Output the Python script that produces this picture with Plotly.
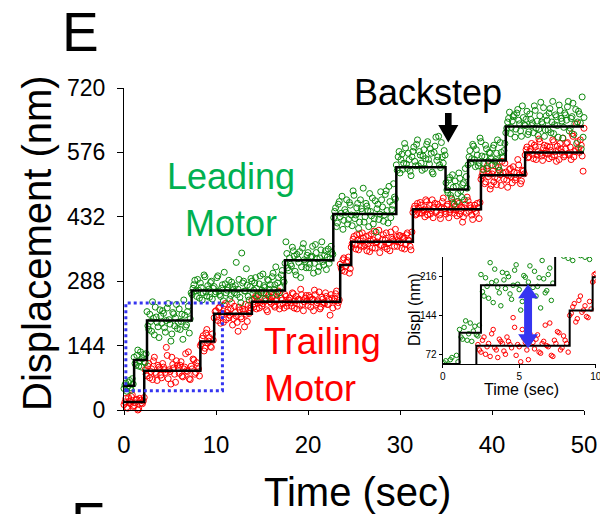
import plotly.graph_objects as go

FONT = "Liberation Sans, Arial, sans-serif"
FRAME_DT = 0.2  # seconds between frames of each interleaved channel

# Leading (green) motor displacement (nm); frames at t = 0, 0.2, 0.4 ... (2 s per row)
leading_nm_even = [
    48, 60, 52, 66, 44, 58, 104, 122, 98, 130,
    115, 108, 126, 188, 214, 176, 205, 230, 196, 162,
    210, 222, 184, 200, 238, 192, 170, 215, 206, 182,
    226, 198, 158, 212, 190, 232, 204, 258, 280, 266,
    292, 250, 274, 262, 298, 255, 270, 285, 248, 276,
    264, 300, 258, 272, 244, 282, 268, 290, 256, 276,
    262, 330, 270, 252, 351, 288, 266, 279, 246, 294,
    260, 284, 272, 256, 300, 268, 278, 250, 292, 270,
    262, 306, 280, 258, 296, 274, 312, 286, 376, 318,
    340, 322, 356, 310, 348, 330, 296, 362, 336, 318,
    352, 326, 344, 306, 370, 338, 320, 358, 332, 346,
    314, 360, 338, 352, 430, 452, 418, 466, 440, 404,
    448, 470, 426, 458, 412, 480, 436, 462, 420, 450,
    496, 432, 456, 410, 444, 474, 428, 398, 460, 438,
    470, 422, 482, 446, 500, 430, 458, 476, 548, 566,
    530, 572, 552, 586, 540, 560, 524, 578, 556, 594,
    546, 570, 536, 582, 562, 600, 550, 574, 528, 590,
    558, 612, 542, 566, 580, 508, 486, 520, 474, 498,
    512, 466, 530, 490, 504, 470, 522, 548, 580, 562,
    590, 544, 570, 552, 600, 538, 566, 584, 556, 574,
    548, 592, 560, 604, 536, 576, 564, 596, 630, 652,
    618, 646, 660, 628, 672, 640, 612, 654, 636, 668,
    622, 650, 642, 680, 630, 614, 658, 644, 676, 626,
    648, 664, 620, 690, 638, 656, 610, 670, 646, 632,
    660, 678, 624, 652, 686, 640, 596, 668, 642, 700,
    654,
]
# Leading motor, frames at t = 0.1, 0.3, 0.5 ...
leading_nm_odd = [
    56, 42, 62, 50, 70, 118, 100, 134, 110, 96,
    124, 106, 220, 180, 198, 242, 168, 208, 186, 224,
    194, 216, 174, 228, 202, 154, 218, 188, 236, 196,
    180, 214, 246, 186, 220, 172, 262, 272, 290, 254,
    268, 284, 246, 302, 264, 278, 252, 288, 272, 260,
    296, 266, 254, 280, 308, 262, 274, 248, 286, 270,
    278, 258, 292, 240, 284, 266, 316, 254, 276, 288,
    268, 296, 254, 282, 262, 304, 274, 258, 290, 280,
    298, 270, 320, 284, 262, 302, 290, 328, 350, 312,
    326, 364, 344, 302, 338, 354, 320, 372, 332, 346,
    318, 342, 366, 328, 352, 310, 340, 376, 324, 356,
    342, 328, 366, 348, 444, 410, 460, 432, 478, 424,
    442, 416, 464, 436, 490, 428, 452, 406, 470, 444,
    420, 462, 446, 484, 434, 416, 468, 450, 426, 488,
    454, 436, 490, 418, 466, 448, 506, 472, 536, 578,
    560, 538, 596, 550, 574, 534, 566, 588, 546, 604,
    578, 552, 568, 540, 594, 560, 584, 532, 576, 610,
    566, 548, 598, 552, 570, 492, 514, 480, 526, 460,
    500, 484, 518, 476, 508, 540, 496, 566, 552, 594,
    560, 582, 546, 608, 568, 552, 592, 540, 576, 562,
    586, 556, 574, 544, 598, 566, 580, 620, 644, 666,
    632, 656, 610, 664, 648, 624, 680, 638, 650, 616,
    662, 636, 620, 670, 646, 628, 688, 640, 612, 658,
    626, 674, 644, 618, 660, 636, 682, 652, 608, 664,
    648, 690, 630, 656, 616, 672, 644, 662, 584, 610,
]

# Trailing (red) motor displacement (nm); frames at t = 0, 0.2, 0.4 ...
trailing_nm_even = [
    12, 26, 4, 20, 30, 8, 16, 24, 2, 22,
    14, 28, 80, 98, 72, 92, 110, 84, 66, 96,
    78, 104, 90, 140, 70, 86, 118, 94, 62, 100,
    82, 108, 74, 96, 88, 130, 68, 92, 112, 84,
    98, 76, 148, 166, 138, 180, 154, 142, 170, 206,
    222, 200, 230, 212, 196, 238, 218, 206, 226, 190,
    232, 210, 176, 224, 204, 220, 236, 198, 216, 228,
    236, 250, 226, 258, 240, 232, 262, 244, 220, 252,
    238, 256, 230, 248, 266, 234, 246, 228, 254, 240,
    250, 232, 260, 244, 226, 248, 270, 236, 242, 256,
    234, 252, 246, 222, 258, 240, 264, 230, 248, 238,
    254, 236, 212, 250, 244, 260, 232, 246, 318, 336,
    310, 330, 342, 316, 372, 388, 360, 380, 394, 366,
    384, 370, 356, 390, 378, 362, 400, 374, 386, 352,
    368, 392, 380, 360, 374, 398, 382, 366, 388, 376,
    390, 362, 384, 370, 396, 378, 358, 442, 456, 438,
    452, 464, 440, 448, 470, 436, 458, 446, 430, 462,
    444, 454, 428, 466, 450, 438, 460, 442, 472, 448,
    456, 434, 462, 446, 420, 452, 440, 468, 458, 436,
    450, 444, 462, 428, 516, 532, 506, 540, 522, 494,
    528, 510, 546, 518, 536, 502, 530, 552, 514, 524,
    540, 508, 532, 520, 560, 526, 512, 534, 570, 588,
    566, 584, 572, 592, 560, 578, 600, 568, 586, 574,
    590, 562, 580, 604, 570, 556, 582, 596, 576, 566,
    584, 598, 570, 560, 612, 578, 640, 586, 604, 568,
    630,
]
# Trailing motor, frames at t = 0.1, 0.3, 0.5 ...
trailing_nm_odd = [
    18, 6, 28, 14, 34, 10, 22, 0, 26, 16,
    20, 90, 76, 104, 86, 68, 118, 80, 100, 92,
    72, 96, 84, 122, 90, 58, 102, 80, 110, 94,
    100, 76, 92, 126, 86, 70, 98, 114, 80, 106,
    92, 144, 160, 132, 172, 150, 162, 140, 156, 220,
    208, 228, 194, 216, 234, 202, 224, 212, 240, 204,
    218, 196, 230, 208, 226, 186, 214, 234, 222, 246,
    230, 254, 244, 228, 262, 238, 248, 224, 256, 242,
    252, 234, 244, 264, 226, 250, 238, 258, 232, 246,
    240, 262, 228, 254, 246, 234, 258, 222, 250, 244,
    256, 230, 248, 268, 236, 244, 226, 252, 240, 262,
    236, 248, 258, 228, 250, 266, 240, 326, 312, 340,
    320, 334, 306, 364, 382, 370, 392, 358, 378, 396,
    366, 388, 372, 354, 394, 380, 362, 376, 402, 368,
    382, 364, 396, 372, 356, 386, 378, 404, 366, 390,
    374, 388, 360, 392, 380, 366, 398, 450, 436, 462,
    440, 458, 446, 432, 466, 450, 438, 470, 454, 442,
    460, 436, 452, 474, 444, 456, 430, 448, 464, 440,
    448, 466, 438, 454, 432, 460, 476, 444, 452, 426,
    458, 440, 452, 464, 524, 538, 510, 546, 528, 502,
    534, 520, 504, 542, 526, 556, 516, 532, 498, 538,
    522, 544, 514, 530, 548, 506, 536, 528, 582, 564,
    578, 596, 562, 588, 570, 606, 574, 558, 592, 580,
    572, 588, 566, 600, 578, 590, 560, 584, 608, 570,
    596, 574, 588, 618, 566, 582, 600, 576, 592, 534,
]

# Step fits (dwell boundaries in s, dwell levels in nm)
leading_step_t = [0, 1.1, 2.5, 7.35, 17.5, 22.75, 29.6, 34.95, 37.4, 41.5, 50.1]
leading_step_nm = [54, 112, 200, 267, 335, 438, 543, 493, 558, 634]
trailing_step_t = [0, 2.2, 8.3, 9.8, 13.9, 23.5, 24.7, 31.4, 38.8, 43.6, 50.1]
trailing_step_nm = [18, 88, 153, 215, 242, 324, 376, 449, 525, 576]

x_ticks = [0, 10, 20, 30, 40, 50]
y_ticks = [0, 144, 288, 432, 576, 720]
inset_x_ticks = [0, 5, 10]
inset_y_ticks = [72, 144, 216]

GREEN = "#0f8a0f"
RED = "#ff0000"
BLUE = "#3535f0"

t_lead = [i * FRAME_DT for i in range(len(leading_nm_even))] + \
         [0.1 + i * FRAME_DT for i in range(len(leading_nm_odd))]
y_lead = leading_nm_even + leading_nm_odd
t_trail = [i * FRAME_DT for i in range(len(trailing_nm_even))] + \
          [0.1 + i * FRAME_DT for i in range(len(trailing_nm_odd))]
y_trail = trailing_nm_even + trailing_nm_odd

W, H = 600, 514
ML, MT = 124, 88
PW, PH = 472, 322
MR, MB = W - ML - PW, H - MT - PH


def paper(xp, yp):
    """Window pixel -> paper coordinates."""
    return (xp - ML) / PW, (H - MB - yp) / PH


fig = go.Figure()

for xa, ya, msize in (("x", "y", 6), ("x2", "y2", 4.5)):
    fig.add_trace(go.Scatter(x=t_trail, y=y_trail, mode="markers", xaxis=xa, yaxis=ya,
                             marker=dict(symbol="circle-open", size=msize, color=RED,
                                         line=dict(width=1, color=RED)),
                             cliponaxis=(xa == "x2"), showlegend=False, hoverinfo="skip"))
    fig.add_trace(go.Scatter(x=t_lead, y=y_lead, mode="markers", xaxis=xa, yaxis=ya,
                             marker=dict(symbol="circle-open", size=msize, color=GREEN,
                                         line=dict(width=1, color=GREEN)),
                             cliponaxis=(xa == "x2"), showlegend=False, hoverinfo="skip"))
    for st, sn in ((trailing_step_t, trailing_step_nm), (leading_step_t, leading_step_nm)):
        fig.add_trace(go.Scatter(x=st, y=sn + [sn[-1]], mode="lines", line_shape="hv",
                                 xaxis=xa, yaxis=ya,
                                 line=dict(color="black", width=2.5 if xa == "x" else 2),
                                 showlegend=False, hoverinfo="skip"))

x0d, x1d = paper(442.7, 0)[0], paper(595.7, 0)[0]
y0d, y1d = paper(0, 364.3)[1], paper(0, 257)[1]

axis_common = dict(showgrid=False, zeroline=False, showline=True, linecolor="black",
                   ticks="outside", tickcolor="black", automargin=False,
                   ticklabeloverflow="allow")

fig.update_layout(
    width=W, height=H, margin=dict(l=ML, r=MR, t=MT, b=MB, autoexpand=False),
    paper_bgcolor="white", plot_bgcolor="rgba(0,0,0,0)",
    font=dict(family=FONT, color="black"),
    xaxis=dict(domain=[0, (584 - ML) / PW], range=[0, 50], tickvals=x_ticks,
               tickfont=dict(size=24), ticklen=4, linewidth=1.3, ticklabelstandoff=9,
               **axis_common),
    yaxis=dict(domain=[0, 1], range=[0, 720], tickvals=y_ticks,
               tickfont=dict(size=23), ticklen=6, linewidth=1.3, ticklabelstandoff=7,
               **axis_common),
    xaxis2=dict(domain=[x0d, x1d], range=[0, 10], tickvals=inset_x_ticks, anchor="y2",
                tickfont=dict(size=10), ticklen=3, linewidth=1, **axis_common),
    yaxis2=dict(domain=[y0d, y1d], range=[53.4, 252.5], tickvals=inset_y_ticks, anchor="x2",
                tickfont=dict(size=10), ticklen=3, linewidth=1, **axis_common),
)

# dotted zoom box
fig.add_shape(type="rect", xref="x", yref="y", x0=0.2, x1=10.7, y0=43, y1=239,
              line=dict(color=BLUE, width=3, dash="dot"), layer="above")

# Backstep arrow (black, pointing down)
bx, tip, base, top = 35.25, 598, 637, 664
sw, hw = 0.36, 1.09
fig.add_shape(type="path", xref="x", yref="y", fillcolor="black", line=dict(width=0),
              path=(f"M {bx},{tip} L {bx + hw},{base} L {bx + sw},{base} L {bx + sw},{top} "
                    f"L {bx - sw},{top} L {bx - sw},{base} L {bx - hw},{base} Z"))

# Double arrow in inset
ax_, at, ab = 5.58, 202, 83
asw, ahw, ahl = 0.26, 0.65, 26
fig.add_shape(type="path", xref="x2", yref="y2", fillcolor=BLUE, line=dict(width=0),
              path=(f"M {ax_},{at} L {ax_ + ahw},{at - ahl} L {ax_ + asw},{at - ahl} "
                    f"L {ax_ + asw},{ab + ahl} L {ax_ + ahw},{ab + ahl} L {ax_},{ab} "
                    f"L {ax_ - ahw},{ab + ahl} L {ax_ - asw},{ab + ahl} L {ax_ - asw},{at - ahl} "
                    f"L {ax_ - ahw},{at - ahl} Z"))


def label(text, xp, yp, size, color="black", xanchor="center", align="center", angle=0):
    px_, py_ = paper(xp, yp)
    fig.add_annotation(text=text, x=px_, y=py_, xref="paper", yref="paper", showarrow=False,
                       xanchor=xanchor, yanchor="middle", align=align, textangle=angle,
                       font=dict(family=FONT, size=size, color=color))


label("E", 80, 32, 55)
label("F", 88, 522, 55)
label("Backstep", 428, 93, 36)
label("Leading<br>Motor", 231, 200, 36, color="#00b050")
label("Trailing<br>Motor", 262, 365, 36, color=RED, xanchor="left", align="left")
label("Time (sec)", 357, 492, 40)
label("Displacement (nm)", 37, 243, 40, angle=-90)
label("Time (sec)", 521, 389, 16)
label("Displ (nm)", 414, 310, 16, angle=-90)

# place the figure at the window's top-left corner (no default page margin)
fig.write_html("out.html", config={"displayModeBar": False},
               post_script="document.body.style.margin='0px';")
